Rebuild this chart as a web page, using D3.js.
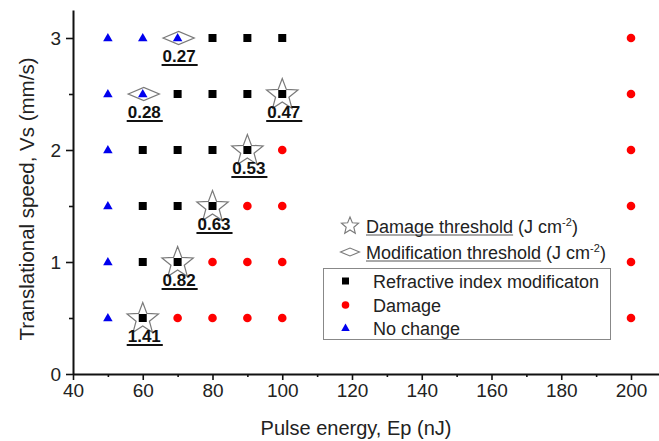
<!DOCTYPE html>
<html>
<head>
<meta charset="utf-8">
<script src="https://cdn.jsdelivr.net/npm/d3@7"></script>
<style>
  html, body { margin: 0; padding: 0; background: #fff; }
  svg { display: block; font-family: "Liberation Sans", Arial, sans-serif; }
</style>
</head>
<body>
<svg id="chart" width="659" height="441"></svg>
<script>
// ---- Data ----
const xTicks = [40, 60, 80, 100, 120, 140, 160, 180, 200];
const xMinorTicks = [50, 70, 90, 110, 130, 150, 170, 190];
const yTicks = [0, 1, 2, 3];
const yMinorTicks = [0.5, 1.5, 2.5];

const noChange = [[50,0.5],[50,1],[50,1.5],[50,2],[50,2.5],[50,3],[60,2.5],[60,3],[70,3]];
const refractive = [[60,0.5],[60,1],[70,1],[60,1.5],[70,1.5],[80,1.5],[60,2],[70,2],[80,2],[90,2],
                    [70,2.5],[80,2.5],[90,2.5],[100,2.5],[80,3],[90,3],[100,3]];
const damage = [[70,0.5],[80,0.5],[90,0.5],[100,0.5],[200,0.5],[80,1],[90,1],[100,1],[200,1],
                [90,1.5],[100,1.5],[200,1.5],[100,2],[200,2],[200,2.5],[200,3]];
const damageThresholdE = [60, 70, 80, 90, 100];
const damageThresholdV = [0.5, 1, 1.5, 2, 2.5];
const damageThresholdLabel = ["1.41", "0.82", "0.63", "0.53", "0.47"];
const modThresholdE = [70, 60];
const modThresholdV = [3, 2.5];
const modThresholdLabel = ["0.27", "0.28"];
const legendItems = ["Refractive index modificaton", "Damage", "No change"];

// ---- Scales ----
const svg = d3.select("#chart");
const x = d3.scaleLinear().domain([40, 210]).range([73, 73 + 170 * 3.4875]);
const y = d3.scaleLinear().domain([0, 3.25]).range([374, 10]);

const fontTick = 19;
const textColor = "#222";

// ---- Axes ----
const gx = svg.append("g").attr("transform", "translate(0,374)");
gx.call(d3.axisBottom(x).tickValues(xTicks).tickSize(6).tickSizeOuter(0).tickPadding(4));
const gxm = svg.append("g").attr("transform", "translate(0,374)");
gxm.call(d3.axisBottom(x).tickValues(xMinorTicks).tickSize(3).tickSizeOuter(0).tickFormat(""));
gxm.select(".domain").remove();

const gy = svg.append("g").attr("transform", "translate(73,0)");
gy.call(d3.axisLeft(y).tickValues(yTicks).tickSize(7).tickSizeOuter(0).tickPadding(5).tickFormat(d3.format("d")));
const gym = svg.append("g").attr("transform", "translate(73,0)");
gym.call(d3.axisLeft(y).tickValues(yMinorTicks).tickSize(4).tickSizeOuter(0).tickFormat(""));
gym.select(".domain").remove();

svg.selectAll(".domain").attr("stroke", "#111").attr("stroke-width", 2);
svg.selectAll(".tick line").attr("stroke", "#111").attr("stroke-width", 1.6);
svg.selectAll(".tick text").attr("font-size", fontTick).attr("fill", textColor)
  .attr("font-family", "Liberation Sans, Arial, sans-serif");

// Axis titles
svg.append("text").attr("x", 356).attr("y", 435).attr("text-anchor", "middle")
  .attr("font-size", 20).attr("fill", textColor).text("Pulse energy, Ep (nJ)");
svg.append("text").attr("transform", "translate(34,199) rotate(-90)").attr("text-anchor", "middle")
  .attr("font-size", 20.5).attr("fill", textColor).text("Translational speed, Vs (mm/s)");

// ---- Symbols ----
function starPath(R, r) {
  const pts = [];
  for (let i = 0; i < 10; i++) {
    const rad = i % 2 === 0 ? R : r;
    const a = -Math.PI / 2 + i * Math.PI / 5;
    pts.push([rad * Math.cos(a), rad * Math.sin(a)]);
  }
  return "M" + pts.map(p => p[0].toFixed(2) + "," + p[1].toFixed(2)).join("L") + "Z";
}
function diamondPath(w, h) {
  return `M${-w/2},0L0,${-h/2}L${w/2},0L0,${h/2}Z`;
}
function triPath(s) {
  const h = s * 0.87;
  return `M0,${-h*0.6}L${s/2},${h*0.4}L${-s/2},${h*0.4}Z`;
}

const grey = "#7a7a7a";

// Thresholds (behind markers)
const dt = damageThresholdE.map((e, i) => ({ e, v: damageThresholdV[i], label: damageThresholdLabel[i] }));
const mt = modThresholdE.map((e, i) => ({ e, v: modThresholdV[i], label: modThresholdLabel[i] }));

svg.append("g").selectAll("path").data(dt).join("path")
  .attr("d", starPath(16.5, 7))
  .attr("transform", d => `translate(${x(d.e)},${y(d.v) + 1})`)
  .attr("fill", "none").attr("stroke", grey).attr("stroke-width", 1.2);

svg.append("g").selectAll("path").data(mt).join("path")
  .attr("d", diamondPath(31, 13))
  .attr("transform", d => `translate(${x(d.e) + 1},${y(d.v)})`)
  .attr("fill", "none").attr("stroke", grey).attr("stroke-width", 1.3);

// Data markers
svg.append("g").selectAll("rect").data(refractive).join("rect")
  .attr("x", d => x(d[0]) - 4).attr("y", d => y(d[1]) - 4)
  .attr("width", 8).attr("height", 8).attr("fill", "#000");
svg.append("g").selectAll("circle").data(damage).join("circle")
  .attr("cx", d => x(d[0])).attr("cy", d => y(d[1])).attr("r", 4.3).attr("fill", "#f00");
svg.append("g").selectAll("path").data(noChange).join("path")
  .attr("d", triPath(9.5))
  .attr("transform", d => `translate(${x(d[0])},${y(d[1])})`).attr("fill", "#0000ee");

// Threshold value labels (bold, underlined)
function valueLabels(data) {
  const g = svg.append("g");
  data.forEach(d => {
    const cx = x(d.e) + 1.5, by = y(d.v) + 24;
    const t = g.append("text").attr("x", cx).attr("y", by).attr("text-anchor", "middle")
      .attr("font-size", 17).attr("font-weight", "bold").attr("fill", "#111").text(d.label);
    const w = t.node().getComputedTextLength();
    g.append("line").attr("x1", cx - w / 2 - 1).attr("x2", cx + w / 2 + 2)
      .attr("y1", by + 3).attr("y2", by + 3).attr("stroke", "#111").attr("stroke-width", 2.2);
  });
}
valueLabels(dt);
valueLabels(mt);

// ---- Threshold legend ----
const thr = [
  { sym: starPath(9, 4), y: 226, name: "Damage threshold" },
  { sym: diamondPath(19, 8), y: 252, name: "Modification threshold" }
];
thr.forEach(d => {
  svg.append("path").attr("d", d.sym).attr("transform", `translate(350,${d.y})`)
    .attr("fill", "none").attr("stroke", grey).attr("stroke-width", 1.1);
  const t = svg.append("text").attr("x", 366).attr("y", d.y + 6.5).attr("font-size", 18).attr("fill", textColor);
  t.append("tspan").text(d.name);
  t.append("tspan").text(" (J cm");
  t.append("tspan").attr("font-size", 11).attr("dy", -7).text("-2");
  t.append("tspan").attr("dy", 7).text(")");
  const w = t.select("tspan").node().getComputedTextLength();
  svg.append("line").attr("x1", 366).attr("x2", 366 + w).attr("y1", d.y + 9).attr("y2", d.y + 9)
    .attr("stroke", "#555").attr("stroke-width", 1);
});

// ---- Boxed legend ----
svg.append("rect").attr("x", 323.5).attr("y", 268.5).attr("width", 287).attr("height", 71)
  .attr("fill", "#fff").attr("stroke", "#888").attr("stroke-width", 1);
const rowsY = [281, 305, 328];
svg.append("rect").attr("x", 342).attr("y", rowsY[0] - 3.5).attr("width", 7).attr("height", 7).attr("fill", "#000");
svg.append("circle").attr("cx", 345.5).attr("cy", rowsY[1]).attr("r", 3.8).attr("fill", "#f00");
svg.append("path").attr("d", triPath(8.5)).attr("transform", `translate(345.5,${rowsY[2]})`).attr("fill", "#0000ee");
svg.append("g").selectAll("text").data(legendItems).join("text")
  .attr("x", 373).attr("y", (d, i) => rowsY[i] + 6.5).attr("font-size", 18).attr("fill", textColor)
  .text(d => d);
</script>
</body>
</html>
